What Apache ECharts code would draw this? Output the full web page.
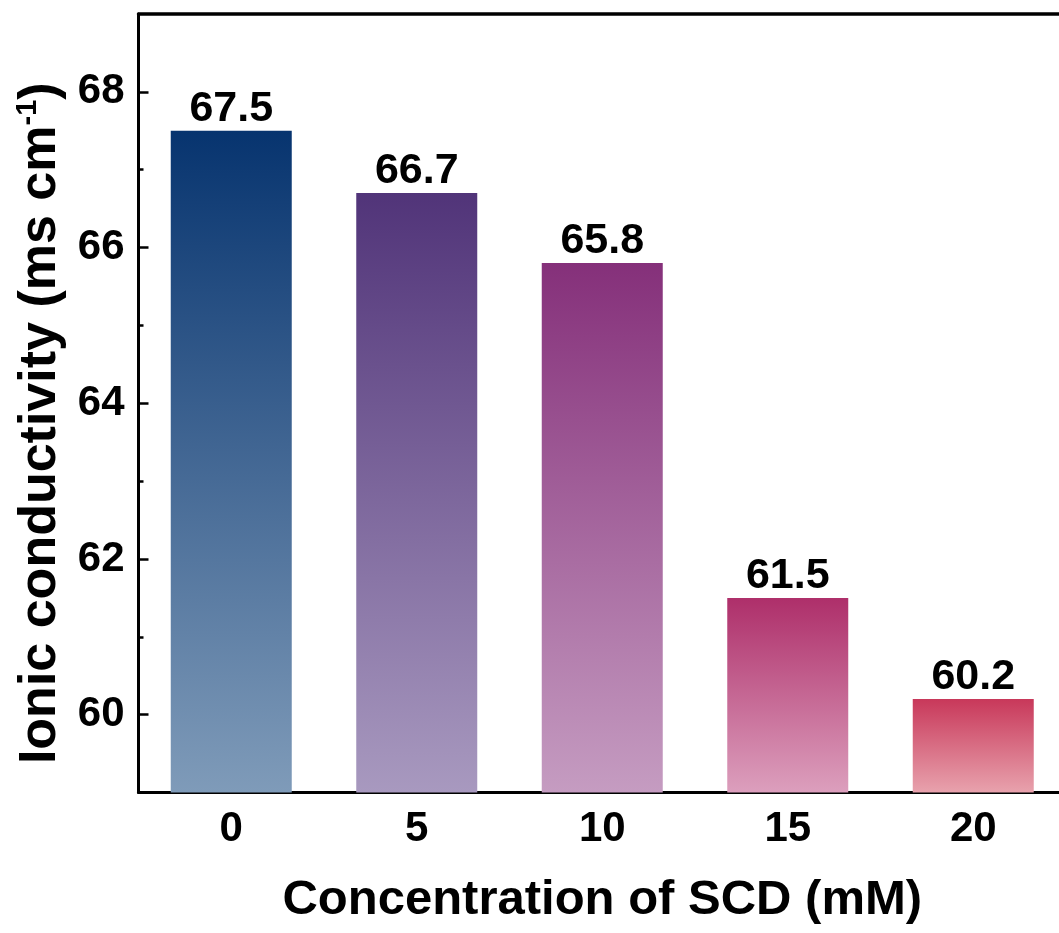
<!DOCTYPE html>
<html>
<head>
<meta charset="utf-8">
<title>Ionic conductivity vs SCD concentration</title>
<script src="https://cdn.jsdelivr.net/npm/echarts@6/dist/echarts.min.js"></script>
<style>
  html, body { margin: 0; padding: 0; background: #ffffff; }
  #chart { width: 1059px; height: 933px; }
</style>
</head>
<body>
<div id="chart"></div>
<script>
// SCD concentrations (mM) and measured ionic conductivity (ms cm^-1)
const categories = ['0', '5', '10', '15', '20'];
const conductivity = [67.5, 66.7, 65.8, 61.5, 60.2];
const majorTicks = [60, 62, 64, 66, 68];
const minorTicks = [61, 63, 65, 67];

// Vertical gradient per bar: [top colour, bottom colour]
const barGradients = [
  ['#07346f', '#7f9bb9'],
  ['#513479', '#a899bf'],
  ['#85307a', '#c59cc1'],
  ['#ae2f6a', '#dc9fbd'],
  ['#c8385a', '#e8a2ad']
];

const FONT = '"Liberation Sans", Arial, sans-serif';

const chart = echarts.init(document.getElementById('chart'), null, { renderer: 'canvas' });

const option = {
  backgroundColor: '#ffffff',
  animation: false,
  // plot frame runs past the right edge of the canvas
  grid: { left: 138.5, top: 14, width: 927.5, height: 778.5, containLabel: false, outerBoundsMode: 'none' },
  xAxis: [
    {
      type: 'category',
      data: categories,
      position: 'bottom',
      boundaryGap: true,
      axisLine: { show: true, lineStyle: { color: '#000', width: 3 } },
      axisTick: { show: false },
      axisLabel: { color: '#000', fontFamily: FONT, fontWeight: 'bold', fontSize: 42, margin: 16 },
      name: 'Concentration of SCD (mM)',
      nameLocation: 'middle',
      nameGap: 83,
      nameTextStyle: { color: '#000', fontFamily: FONT, fontWeight: 'bold', fontSize: 49 },
      splitLine: { show: false }
    },
    {
      // top frame line
      type: 'category',
      data: categories,
      position: 'top',
      axisLine: { show: true, lineStyle: { color: '#000', width: 3.5 } },
      axisTick: { show: false },
      axisLabel: { show: false },
      splitLine: { show: false }
    }
  ],
  yAxis: [
    {
      type: 'value',
      min: 59,
      max: 69,
      position: 'left',
      axisLine: { show: true, lineStyle: { color: '#000', width: 3 } },
      axisTick: { show: true, inside: true, length: 10, lineStyle: { color: '#000', width: 2.5 }, customValues: majorTicks },
      axisLabel: { color: '#000', fontFamily: FONT, fontWeight: 'bold', fontSize: 42, margin: 14, customValues: majorTicks },
      splitLine: { show: false },
      name: '{t|Ionic conductivity (ms cm}{sup|-1}{t|)}',
      nameLocation: 'middle',
      nameRotate: 90,
      nameGap: 67,
      nameTextStyle: {
        color: '#000',
        fontFamily: FONT,
        fontWeight: 'bold',
        fontSize: 52,
        padding: [0, 40, 0, 0],
        rich: {
          t: { color: '#000', fontFamily: FONT, fontWeight: 'bold', fontSize: 52 },
          sup: { color: '#000', fontFamily: FONT, fontWeight: 'bold', fontSize: 29, padding: [0, 0, 25, 0] }
        }
      }
    },
    {
      // minor ticks at odd values
      type: 'value',
      min: 59,
      max: 69,
      position: 'left',
      axisLine: { show: false },
      axisTick: { show: true, inside: true, length: 5, lineStyle: { color: '#000', width: 2.5 }, customValues: minorTicks },
      axisLabel: { show: false, customValues: minorTicks },
      splitLine: { show: false }
    }
  ],
  series: [
    {
      type: 'bar',
      xAxisIndex: 0,
      yAxisIndex: 0,
      barWidth: 121,
      data: conductivity.map((v, i) => ({
        value: v,
        itemStyle: {
          color: new echarts.graphic.LinearGradient(0, 0, 0, 1, [
            { offset: 0, color: barGradients[i][0] },
            { offset: 1, color: barGradients[i][1] }
          ])
        }
      })),
      label: {
        show: true,
        position: 'top',
        distance: 0,
        color: '#000',
        fontFamily: FONT,
        fontWeight: 'bold',
        fontSize: 43,
        formatter: p => p.value.toFixed(1)
      }
    }
  ]
};

chart.setOption(option);
</script>
</body>
</html>
